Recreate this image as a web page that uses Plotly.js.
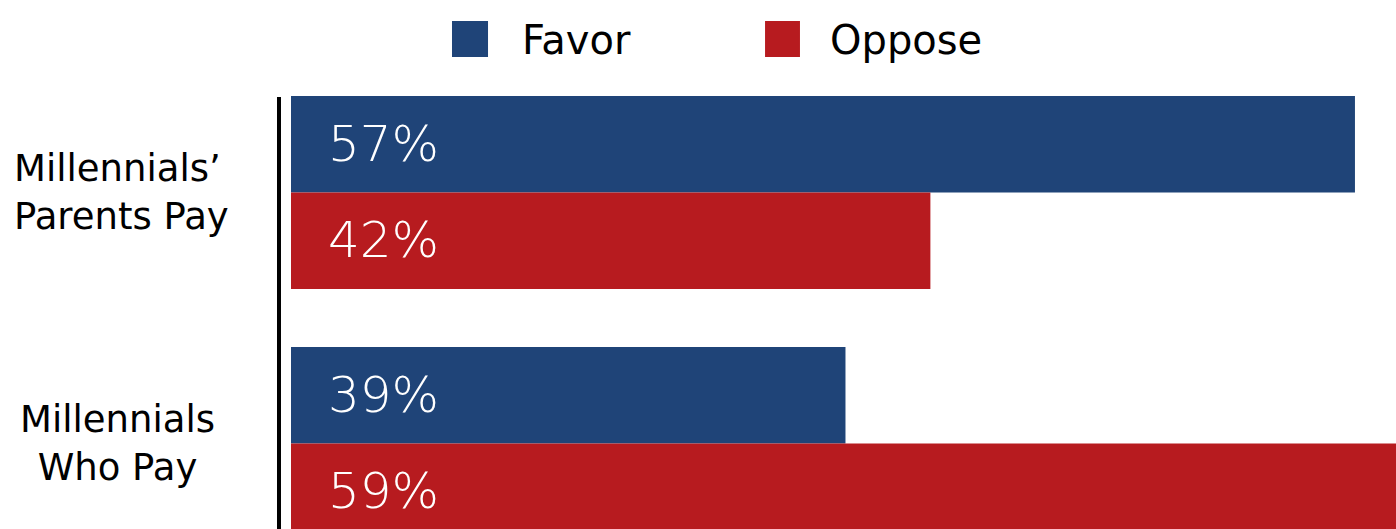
<!DOCTYPE html>
<html>
<head>
<meta charset="utf-8">
<script src="https://cdn.plot.ly/plotly-3.0.1.min.js"></script>
<style>html,body{margin:0;padding:0;background:#fff;}#chart{width:1396px;height:529px;}</style>
</head>
<body>
<div id="chart"></div>
<script>
// Data
var categories = ["Millennials’<br>Parents Pay", "Millennials<br>Who Pay"];
var seriesNames = ["Favor", "Oppose"];
var favorValues = [57, 39];
var opposeValues = [42, 59];
var seriesColors = ["#1F4478", "#B71B1F"];

var FONT = "DejaVu Sans, sans-serif";
var valuesBySeries = [favorValues, opposeValues];

var traces = seriesNames.map(function (name, i) {
  return {
    type: "bar",
    orientation: "h",
    name: name,
    x: valuesBySeries[i],
    y: categories,
    marker: { color: seriesColors[i], line: { width: 0 } },
    hoverinfo: "skip",
    showlegend: false
  };
});

var annotations = [];
// category labels
var catLabelStyle = [
  { x: -0.2525, xanchor: "left", align: "left" },
  { x: -0.1566, xanchor: "center", align: "center" }
];
categories.forEach(function (c, j) {
  annotations.push({
    xref: "paper", yref: "y", x: catLabelStyle[j].x, y: c,
    text: c, showarrow: false, xanchor: catLabelStyle[j].xanchor, yanchor: "middle", align: catLabelStyle[j].align,
    font: { family: FONT, size: 37, color: "#000" }
  });
});
// value labels inside bars
valuesBySeries.forEach(function (vals, i) {
  vals.forEach(function (v, j) {
    annotations.push({
      xref: "paper", yref: "y", x: 0.0317, y: categories[j],
      yshift: i === 0 ? 49 : -47,
      text: v + "%", showarrow: false, xanchor: "left", yanchor: "middle",
      font: { family: FONT, size: 50, color: "#fff", weight: 200 }
    });
  });
});
// legend texts
var legendTextX = [0.2072, 0.4860];
var legendBoxX = [[0.1457, 0.1783], [0.4290, 0.4606]];
var shapes = [];
seriesNames.forEach(function (n, i) {
  annotations.push({
    xref: "paper", yref: "paper", x: legendTextX[i], y: 1.0584,
    text: n, showarrow: false, xanchor: "left", yanchor: "middle",
    font: { family: FONT, size: 40, color: "#000" }
  });
  shapes.push({
    type: "rect", xref: "paper", yref: "paper",
    x0: legendBoxX[i][0], x1: legendBoxX[i][1], y0: 1.0216, y1: 1.0996,
    fillcolor: seriesColors[i], line: { width: 0 }
  });
});
// left axis line
shapes.push({
  type: "line", xref: "paper", yref: "paper",
  x0: -0.01086, x1: -0.01086, y0: 0.935, y1: -0.05,
  line: { color: "#000", width: 4 }
});

var layout = {
  width: 1396, height: 529,
  margin: { l: 291, r: 0, t: 67, b: 0, pad: 0 },
  paper_bgcolor: "#fff", plot_bgcolor: "#fff",
  barmode: "group", bargap: 0.231, bargroupgap: 0,
  showlegend: false,
  xaxis: { range: [19.41, 58.45], showgrid: false, zeroline: false, showticklabels: false, showline: false, fixedrange: true },
  yaxis: { type: "category", categoryarray: categories, categoryorder: "array", range: [1.3406, -0.5],
           showgrid: false, zeroline: false, showticklabels: false, showline: false, fixedrange: true },
  annotations: annotations,
  shapes: shapes
};

Plotly.newPlot("chart", traces, layout, { displayModeBar: false, staticPlot: true });
</script>
</body>
</html>
